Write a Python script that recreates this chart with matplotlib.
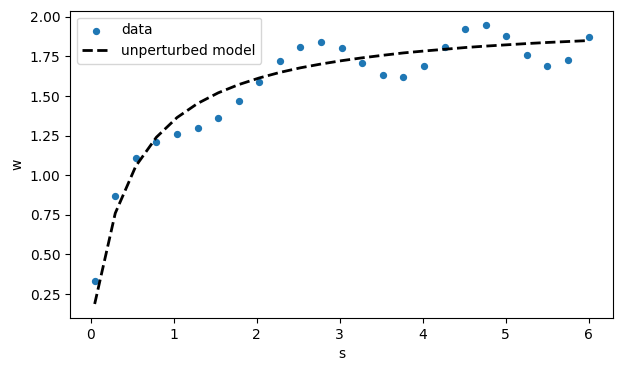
import numpy as np
import matplotlib
matplotlib.use("Agg")
import matplotlib.pyplot as plt

# valores
s = [0.05, 0.298, 0.546, 0.794, 1.042, 1.290, 1.538, 1.785, 2.033, 2.281,
     2.529, 2.777, 3.025, 3.273, 3.521, 3.769, 4.017, 4.265, 4.513, 4.760,
     5.008, 5.256, 5.504, 5.752, 6.0]
w_data = [0.33, 0.87, 1.11, 1.21, 1.26, 1.30, 1.36, 1.47, 1.59, 1.72,
          1.81, 1.84, 1.80, 1.71, 1.63, 1.62, 1.69, 1.81, 1.92, 1.95,
          1.88, 1.76, 1.69, 1.73, 1.87]
w_modelo = [0.187, 0.760, 1.058, 1.240, 1.364, 1.453, 1.520, 1.572, 1.614, 1.649,
            1.678, 1.702, 1.723, 1.741, 1.757, 1.772, 1.784, 1.795, 1.806, 1.815,
            1.823, 1.831, 1.838, 1.844, 1.850]

fig = plt.figure(figsize=(6.22, 3.71), dpi=100)
ax = fig.add_axes([0.1125, 0.143, 0.8735, 0.828])

ax.scatter(s, w_data, s=18, color="tab:blue", label="data")
ax.plot(s, w_modelo, "--", color="k", lw=2, label="unperturbed model")

ax.set_xlabel("s")
ax.set_ylabel("w")
ax.set_xticks([0, 1, 2, 3, 4, 5, 6])
ax.set_yticks([0.25, 0.5, 0.75, 1.0, 1.25, 1.5, 1.75, 2.0])
ax.legend(loc="upper left")

fig.savefig("out.png", dpi=100)
